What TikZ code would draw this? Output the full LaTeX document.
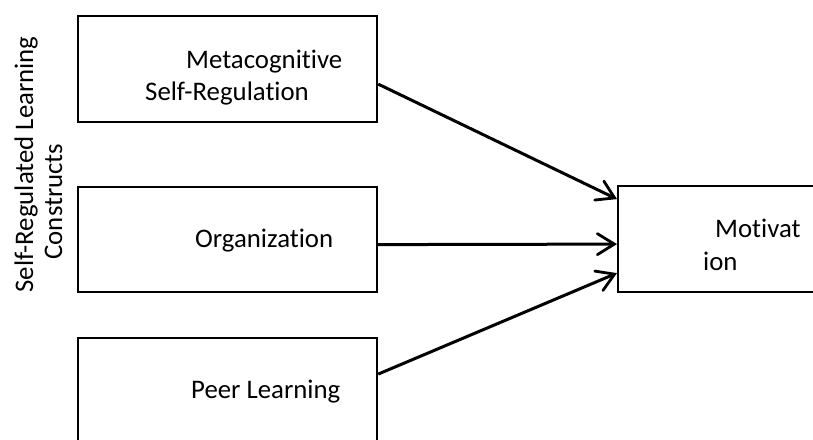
\documentclass[tikz,border=0pt]{standalone}
\usepackage{fontspec}
\setmainfont{Carlito}[Ligatures={NoCommon}]
\usetikzlibrary{arrows.meta}
\begin{document}
\begin{tikzpicture}[x=1pt,y=-1pt,
  boxnode/.style={draw, line width=2.2pt, inner sep=0pt, anchor=north west},
  txt/.style={font=\fontsize{26.8}{31}\selectfont, inner sep=0pt},
  conn/.style={line width=3pt, -{Straight Barb[length=17pt,width=21pt,line width=2.8pt,line cap=round]}}]
\useasboundingbox (0,0) rectangle (813,439);
\clip (0,0) rectangle (813,439);
\node[boxnode, minimum width=299pt, minimum height=106pt] (m) at (77,15) {};
\node[boxnode, minimum width=299pt, minimum height=105pt] (o) at (77,186) {};
\node[boxnode, minimum width=299pt, minimum height=123pt] (p) at (77,337) {};
\node[boxnode, minimum width=220pt, minimum height=106pt] (mot) at (617,185) {};
\node[txt, anchor=base west] (t1) at (186,68) {Metacognitive};
\node[txt, anchor=base west] (t2) at (145,100) {Self-Regulation};
\node[txt, anchor=base west] (t3) at (195,247) {Organization};
\node[txt, anchor=base west] (t4) at (191,398) {Peer Learning};
\node[txt, anchor=base west] (t5) at (715,237) {Motivat};
\node[txt, anchor=base west] (t6) at (703,270) {ion};
\node[txt, anchor=base, rotate=90] (l1) at (33,164.5) {Self-Regulated Learning};
\node[txt, anchor=base, rotate=90] (l2) at (62,201.5) {Constructs};
\draw[conn] ([yshift=-15pt]m.east) -- ([yshift=40pt]mot.west);
\draw[conn] ([yshift=-5pt]o.east) -- ([yshift=-5pt]mot.west);
\draw[conn] ([yshift=25.5pt]p.east) -- ([yshift=-34pt]mot.west);
\end{tikzpicture}
\end{document}
